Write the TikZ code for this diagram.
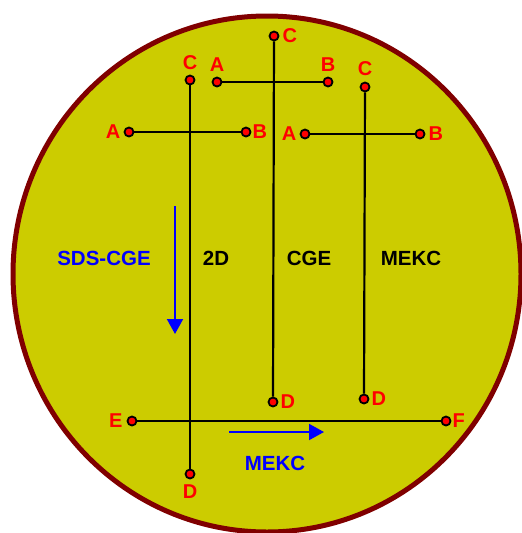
\documentclass[tikz,border=0pt]{standalone}
\usepackage{fontspec}
\setmainfont{Liberation Sans}
\usepackage{xcolor}
\usepackage{tikz}
\usetikzlibrary{positioning,arrows.meta}
\definecolor{dishfill}{HTML}{CCCC00}
\definecolor{dishrim}{HTML}{800000}

\begin{document}
\begin{tikzpicture}[
    x=1pt, y=-1pt,
    node distance=3pt,
    every node/.style={font=\bfseries\fontsize{20}{23}\selectfont},
    dot/.style={circle, draw=black, fill=red, line width=1.8pt, inner sep=0pt, minimum size=9pt},
    lbl/.style={text=red, inner sep=0pt},
    mode/.style={inner sep=0pt, font=\bfseries\fontsize{20.5}{24}\selectfont},
    wire/.style={draw=black, line width=2.2pt},
    flow/.style={draw=blue, line width=2pt, -{Triangle[length=15pt,width=16pt]}}
  ]

  \path[use as bounding box] (0,0) rectangle (522,533);

  % --- Dish ---
  \draw[fill=dishfill, draw=dishrim, line width=5pt] (267,274) ellipse [x radius=254, y radius=258];

  % --- 2D separation (left) ---
  \node[dot] (c2d) at (190,80) {};
  \node[dot] (d2d) at (190,474) {};
  \node[dot] (a2d) at (129,132) {};
  \node[dot] (b2d) at (246,132) {};
  \node[dot] (e) at (132,421) {};
  \node[dot] (f) at (446,421) {};

  % --- CGE (middle) ---
  \node[dot] (ccge) at (274,36) {};
  \node[dot] (dcge) at (273,402) {};
  \node[dot] (acge) at (217,82) {};
  \node[dot] (bcge) at (328,82) {};

  % --- MEKC (right) ---
  \node[dot] (cmek) at (365,87) {};
  \node[dot] (dmek) at (364,399) {};
  \node[dot] (amek) at (305,134) {};
  \node[dot] (bmek) at (420,134) {};

  % --- Lanes ---
  \draw[wire] (a2d) -- (b2d);
  \draw[wire] (e) -- (f);
  \draw[wire] (c2d) -- (d2d);
  \draw[wire] (acge) -- (bcge);
  \draw[wire] (ccge) -- (dcge);
  \draw[wire] (amek) -- (bmek);
  \draw[wire] (cmek) -- (dmek);

  % --- Point labels ---
  \node[lbl, above=5pt of c2d] {C};
  \node[lbl, below=5pt of d2d] {D};
  \node[lbl, left=of a2d] {A};
  \node[lbl, right=1pt of b2d] {B};
  \node[lbl, left=4pt of e] {E};
  \node[lbl, right=1pt of f] {F};
  \node[lbl, right=of ccge] {C};
  \node[lbl, right=2pt of dcge] {D};
  \node[lbl, above=5pt of acge] {A};
  \node[lbl, above=5pt of bcge] {B};
  \node[lbl, above=6pt of cmek] {C};
  \node[lbl, right=2pt of dmek] {D};
  \node[lbl, left=of amek] {A};
  \node[lbl, right=of bmek] {B};

  % --- Mode names ---
  \node[mode, text=blue] (sds) at (104,258) {SDS-CGE};
  \node[mode] (twod) at (216,258) {2D};
  \node[mode] (cge) at (309,258) {CGE};
  \node[mode] (mekc) at (411,258) {MEKC};
  \node[mode, text=blue] (mekc2) at (275,463) {MEKC};

  % --- Direction arrows ---
  \coordinate (down0) at (175,206);
  \coordinate (down1) at (175,334);
  \coordinate (right0) at (229,432);
  \coordinate (right1) at (324,432);
  \draw[flow] (down0) -- (down1);
  \draw[flow] (right0) -- (right1);

\end{tikzpicture}
\end{document}
